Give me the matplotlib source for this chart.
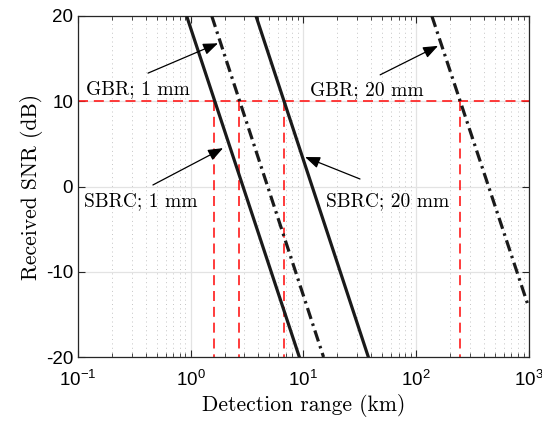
import matplotlib
matplotlib.use("Agg")
import matplotlib.pyplot as plt
from matplotlib.ticker import LogLocator, NullLocator, FixedLocator

plt.rcParams['mathtext.fontset'] = 'cm'
plt.rcParams['font.family'] = ['Liberation Sans', 'DejaVu Sans']
plt.rcParams['axes.unicode_minus'] = False

# ---- data ----
snr_ends = [20, -20]                 # dB
sbrc_1mm_range = [0.922, 9.21]       # km
gbr_1mm_range = [1.54, 15.1]
sbrc_20mm_range = [3.80, 37.7]
gbr_20mm_range = [138, 1000]
gbr_20mm_snr = [20, -14.2]

threshold_snr = 10
crossing_ranges = [1.61, 2.70, 6.72, 245]

labels = ["GBR; 1 mm", "SBRC; 1 mm", "GBR; 20 mm", "SBRC; 20 mm"]
label_pos = [(0.118, 10.85), (0.113, -2.3), (11.46, 10.7), (15.9, -2.3)]
arrow_tails = [(0.419, 13.3), (0.463, 0.18), (48, 13.1), (31.8, 0.88)]
arrow_tips = [(1.75, 16.8), (1.94, 4.5), (156.7, 16.5), (10.35, 3.46)]

xlim = (0.1, 1000)
ylim = (-20, 20)
yticks = [-20, -10, 0, 10, 20]

serif = ['cmr10', 'DejaVu Serif']

fig = plt.figure(figsize=(5.42, 4.21), dpi=100)
ax = fig.add_axes([0.1437, 0.152, 0.832, 0.810])
ax.set_xscale('log')
ax.set_xlim(*xlim)
ax.set_ylim(*ylim)

grid_col = '#e3e3e3'
ax.set_axisbelow(True)
ax.xaxis.set_major_locator(LogLocator(base=10, numticks=10))
ax.xaxis.set_minor_locator(LogLocator(base=10, subs=range(2, 10), numticks=20))
ax.yaxis.set_major_locator(FixedLocator(yticks))
ax.yaxis.set_minor_locator(NullLocator())
ax.grid(True, which='major', axis='both', color=grid_col, lw=0.9, ls='-')
ax.grid(True, which='minor', axis='x', color='#c4c4c4', lw=0.7, ls=(0, (1, 3.5)))

red = '#ff1a1a'
dash = (0, (6, 3.5))
# threshold lines
ax.plot(xlim, [threshold_snr, threshold_snr], color=red, lw=1.2, ls=dash, zorder=2)
for r in crossing_ranges:
    ax.plot([r, r], [threshold_snr, ylim[0]], color=red, lw=1.2, ls=dash, zorder=2)

lw = 2.3
dashdot = (0, (3.6, 1.5, 0.8, 1.5))
ax.plot(sbrc_1mm_range, snr_ends, color='#1a1a1a', lw=lw, ls='-', zorder=3)
ax.plot(gbr_1mm_range, snr_ends, color='#1a1a1a', lw=lw, ls=dashdot, zorder=3)
ax.plot(sbrc_20mm_range, snr_ends, color='#1a1a1a', lw=lw, ls='-', zorder=3)
ax.plot(gbr_20mm_range, gbr_20mm_snr, color='#1a1a1a', lw=lw, ls=dashdot, zorder=3)

for lab, pos in zip(labels, label_pos):
    ax.text(pos[0], pos[1], lab, family=serif,
            fontsize=14, ha='left', va='baseline', zorder=5)

for tail, tip in zip(arrow_tails, arrow_tips):
    ax.annotate('', xy=tip, xytext=tail,
                arrowprops=dict(arrowstyle='-|>,head_length=0.9,head_width=0.35',
                                color='k', lw=0.9, shrinkA=0, shrinkB=0),
                zorder=6)

ax.set_xlabel('Detection range (km)', family=serif, fontsize=15.5, labelpad=3)
ax.set_ylabel('Received SNR (dB)', family=serif, fontsize=15.5, labelpad=2)

ax.tick_params(which='both', direction='in', top=True, right=True,
               labelsize=13.5, color='#262626')
ax.tick_params(which='major', length=5, width=0.8)
ax.tick_params(which='minor', length=3, width=0.6)
ax.tick_params(axis='x', which='major', pad=9)
ax.set_yticklabels([str(v) for v in yticks])
for s in ax.spines.values():
    s.set_color('#262626')
    s.set_linewidth(0.9)

fig.savefig('out.png', dpi=100)
